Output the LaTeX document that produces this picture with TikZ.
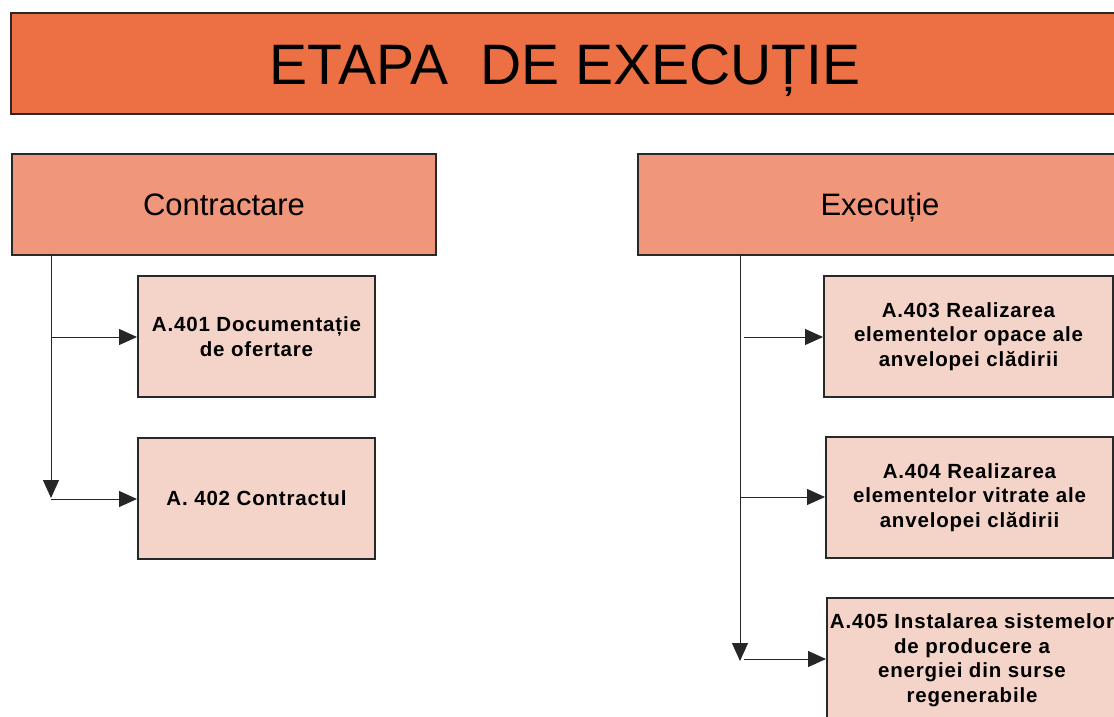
\documentclass[tikz,border=0pt]{standalone}
\usepackage{fontspec}
\setmainfont{Liberation Sans}
\newfontfamily\itemfont[LetterSpace=4]{Liberation Sans}
\usetikzlibrary{arrows.meta}
\definecolor{titleorange}{RGB}{236,112,68}
\definecolor{catfill}{RGB}{240,150,122}
\definecolor{itemfill}{RGB}{244,212,200}
\definecolor{edgegray}{RGB}{40,40,40}
\tikzset{
  titlebox/.style={draw=edgegray, line width=2pt, fill=titleorange, rectangle, inner sep=0pt,
    font=\fontsize{57}{60}\selectfont, text height=41pt, text depth=0pt},
  catbox/.style={draw=edgegray, line width=2pt, fill=catfill, rectangle, inner sep=0pt,
    font=\fontsize{31}{36}\selectfont, text height=22pt, text depth=0pt},
  itembox/.style={draw=edgegray, line width=2pt, fill=itemfill, rectangle, inner sep=0pt,
    align=center, font=\itemfont\bfseries\fontsize{20.5}{24.5}\selectfont},
  conn/.style={draw=black!85, line width=1pt},
  arr/.style={conn, -{Triangle[length=18pt,width=16pt]}}
}
\begin{document}
\begin{tikzpicture}[x=1pt,y=-1pt]
\useasboundingbox (0,0) rectangle (1114,716);
\begin{scope}
\clip (0,0) rectangle (1114,716);
% title
\node[titlebox, minimum width=1108pt, minimum height=101pt] (title) at (565,63.5) {ETAPA\ \ DE EXECUȚIE};
% categories
\node[catbox, minimum width=424pt, minimum height=101pt] (contr) at (224,204.5) {Contractare};
\node[catbox, minimum width=484pt, minimum height=101pt] (exec) at (880,204.5) {Execuție};
% items left
\node[itembox, minimum width=237pt, minimum height=121pt] (a401) at (256.5,336.5) {A.401 Documentație\\de ofertare};
\node[itembox, minimum width=237pt, minimum height=121pt] (a402) at (256.5,498.5) {A. 402 Contractul};
% items right
\node[itembox, minimum width=289pt, minimum height=121pt] (a403) at (968.5,336.5) {A.403 Realizarea\\elementelor opace ale\\anvelopei clădirii};
\node[itembox, minimum width=287pt, minimum height=121pt] (a404) at (969.5,497.5) {A.404 Realizarea\\elementelor vitrate ale\\anvelopei clădirii};
\node[itembox, minimum width=290pt, minimum height=124pt] (a405) at (972,660) {A.405 Instalarea sistemelor\\de producere a\\energiei din surse\\regenerabile};
% left connectors
\coordinate (lt) at (51,255);
\coordinate (lb) at (51,498);
\coordinate (l1) at (51,337);
\coordinate (l2) at (51,499);
\draw[arr] (lt) -- (lb);
\draw[arr] (l1) -- (a401.west |- l1);
\draw[arr] (l2) -- (a402.west |- l2);
% right connectors
\coordinate (rt) at (740,255);
\coordinate (rb) at (740,661);
\coordinate (r1) at (744,337);
\coordinate (r2) at (741,497);
\coordinate (r3) at (744,659);
\draw[arr] (rt) -- (rb);
\draw[arr] (r1) -- (a403.west |- r1);
\draw[arr] (r2) -- (a404.west |- r2);
\draw[arr] (r3) -- (a405.west |- r3);
\end{scope}
\end{tikzpicture}
\end{document}
